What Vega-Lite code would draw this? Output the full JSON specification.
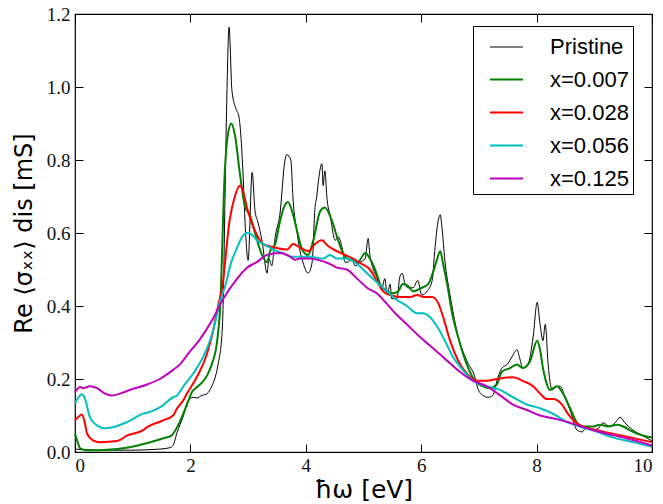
{
 "$schema": "https://vega.github.io/schema/vega-lite/v6.json",
 "width": 577, "height": 438,
 "autosize": {"type": "none"},
 "padding": {"left": 75, "top": 14, "right": 11, "bottom": 52},
 "background": "#ffffff",
 "config": {
  "view": {"stroke": "#000", "strokeWidth": 1.2},
  "axis": {"grid": false, "domain": false, "tickColor": "#000", "tickSize": -8, "tickWidth": 1,
   "labelFont": "Liberation Serif", "labelFontSize": 19, "labelColor": "#111",
   "titleFont": "DejaVu Sans", "titleFontSize": 24, "titleFontWeight": "normal", "titleColor": "#000"}
 },
 "data": {"values": [
  {"s":"Pristine","x":0,"y":0.008},{"s":"Pristine","x":0.43,"y":0.005},{"s":"Pristine","x":0.95,"y":0.005},{"s":"Pristine","x":1.47,"y":0.008},{"s":"Pristine","x":1.65,"y":0.012},{"s":"Pristine","x":1.70,"y":0.018},{"s":"Pristine","x":1.77,"y":0.054},{"s":"Pristine","x":1.87,"y":0.095},{"s":"Pristine","x":1.96,"y":0.14},{"s":"Pristine","x":2.05,"y":0.15},{"s":"Pristine","x":2.11,"y":0.148},{"s":"Pristine","x":2.20,"y":0.155},{"s":"Pristine","x":2.29,"y":0.16},{"s":"Pristine","x":2.37,"y":0.18},{"s":"Pristine","x":2.43,"y":0.205},{"s":"Pristine","x":2.48,"y":0.24},{"s":"Pristine","x":2.55,"y":0.33},{"s":"Pristine","x":2.57,"y":0.42},{"s":"Pristine","x":2.60,"y":0.70},{"s":"Pristine","x":2.63,"y":0.96},{"s":"Pristine","x":2.67,"y":1.164},{"s":"Pristine","x":2.72,"y":0.99},{"s":"Pristine","x":2.79,"y":0.94},{"s":"Pristine","x":2.84,"y":0.92},{"s":"Pristine","x":2.91,"y":0.77},{"s":"Pristine","x":2.95,"y":0.62},{"s":"Pristine","x":3.00,"y":0.525},{"s":"Pristine","x":3.07,"y":0.766},{"s":"Pristine","x":3.12,"y":0.66},{"s":"Pristine","x":3.17,"y":0.63},{"s":"Pristine","x":3.24,"y":0.58},{"s":"Pristine","x":3.33,"y":0.49},{"s":"Pristine","x":3.36,"y":0.53},{"s":"Pristine","x":3.41,"y":0.51},{"s":"Pristine","x":3.47,"y":0.59},{"s":"Pristine","x":3.55,"y":0.65},{"s":"Pristine","x":3.64,"y":0.80},{"s":"Pristine","x":3.67,"y":0.815},{"s":"Pristine","x":3.74,"y":0.80},{"s":"Pristine","x":3.78,"y":0.69},{"s":"Pristine","x":3.85,"y":0.60},{"s":"Pristine","x":3.90,"y":0.55},{"s":"Pristine","x":3.95,"y":0.52},{"s":"Pristine","x":4.04,"y":0.49},{"s":"Pristine","x":4.11,"y":0.52},{"s":"Pristine","x":4.16,"y":0.67},{"s":"Pristine","x":4.19,"y":0.70},{"s":"Pristine","x":4.21,"y":0.73},{"s":"Pristine","x":4.28,"y":0.79},{"s":"Pristine","x":4.30,"y":0.73},{"s":"Pristine","x":4.33,"y":0.77},{"s":"Pristine","x":4.37,"y":0.69},{"s":"Pristine","x":4.42,"y":0.65},{"s":"Pristine","x":4.51,"y":0.58},{"s":"Pristine","x":4.56,"y":0.59},{"s":"Pristine","x":4.63,"y":0.56},{"s":"Pristine","x":4.68,"y":0.52},{"s":"Pristine","x":4.73,"y":0.52},{"s":"Pristine","x":4.80,"y":0.53},{"s":"Pristine","x":4.85,"y":0.51},{"s":"Pristine","x":4.94,"y":0.52},{"s":"Pristine","x":5.03,"y":0.53},{"s":"Pristine","x":5.08,"y":0.585},{"s":"Pristine","x":5.11,"y":0.54},{"s":"Pristine","x":5.16,"y":0.505},{"s":"Pristine","x":5.23,"y":0.48},{"s":"Pristine","x":5.32,"y":0.45},{"s":"Pristine","x":5.37,"y":0.475},{"s":"Pristine","x":5.41,"y":0.43},{"s":"Pristine","x":5.46,"y":0.46},{"s":"Pristine","x":5.49,"y":0.42},{"s":"Pristine","x":5.58,"y":0.42},{"s":"Pristine","x":5.63,"y":0.48},{"s":"Pristine","x":5.67,"y":0.49},{"s":"Pristine","x":5.72,"y":0.46},{"s":"Pristine","x":5.77,"y":0.45},{"s":"Pristine","x":5.86,"y":0.45},{"s":"Pristine","x":5.94,"y":0.47},{"s":"Pristine","x":6.01,"y":0.43},{"s":"Pristine","x":6.10,"y":0.44},{"s":"Pristine","x":6.19,"y":0.47},{"s":"Pristine","x":6.24,"y":0.56},{"s":"Pristine","x":6.29,"y":0.63},{"s":"Pristine","x":6.33,"y":0.65},{"s":"Pristine","x":6.36,"y":0.615},{"s":"Pristine","x":6.41,"y":0.525},{"s":"Pristine","x":6.50,"y":0.43},{"s":"Pristine","x":6.62,"y":0.33},{"s":"Pristine","x":6.79,"y":0.25},{"s":"Pristine","x":6.93,"y":0.205},{"s":"Pristine","x":6.98,"y":0.175},{"s":"Pristine","x":7.07,"y":0.155},{"s":"Pristine","x":7.16,"y":0.15},{"s":"Pristine","x":7.24,"y":0.155},{"s":"Pristine","x":7.33,"y":0.205},{"s":"Pristine","x":7.40,"y":0.23},{"s":"Pristine","x":7.49,"y":0.24},{"s":"Pristine","x":7.57,"y":0.26},{"s":"Pristine","x":7.66,"y":0.28},{"s":"Pristine","x":7.71,"y":0.255},{"s":"Pristine","x":7.76,"y":0.23},{"s":"Pristine","x":7.85,"y":0.24},{"s":"Pristine","x":7.94,"y":0.315},{"s":"Pristine","x":8.01,"y":0.41},{"s":"Pristine","x":8.06,"y":0.35},{"s":"Pristine","x":8.11,"y":0.305},{"s":"Pristine","x":8.15,"y":0.35},{"s":"Pristine","x":8.20,"y":0.24},{"s":"Pristine","x":8.27,"y":0.17},{"s":"Pristine","x":8.35,"y":0.18},{"s":"Pristine","x":8.41,"y":0.18},{"s":"Pristine","x":8.49,"y":0.15},{"s":"Pristine","x":8.58,"y":0.115},{"s":"Pristine","x":8.70,"y":0.06},{"s":"Pristine","x":8.79,"y":0.055},{"s":"Pristine","x":8.87,"y":0.07},{"s":"Pristine","x":8.98,"y":0.06},{"s":"Pristine","x":9.10,"y":0.07},{"s":"Pristine","x":9.15,"y":0.08},{"s":"Pristine","x":9.27,"y":0.07},{"s":"Pristine","x":9.36,"y":0.08},{"s":"Pristine","x":9.45,"y":0.095},{"s":"Pristine","x":9.53,"y":0.08},{"s":"Pristine","x":9.67,"y":0.06},{"s":"Pristine","x":9.84,"y":0.045},{"s":"Pristine","x":10,"y":0.03},

  {"s":"x=0.007","x":0,"y":0.05},{"s":"x=0.007","x":0.05,"y":0.025},{"s":"x=0.007","x":0.09,"y":0.01},{"s":"x=0.007","x":0.2,"y":0.005},{"s":"x=0.007","x":0.43,"y":0.005},{"s":"x=0.007","x":0.95,"y":0.013},{"s":"x=0.007","x":1.24,"y":0.024},{"s":"x=0.007","x":1.52,"y":0.037},{"s":"x=0.007","x":1.67,"y":0.045},{"s":"x=0.007","x":1.77,"y":0.068},{"s":"x=0.007","x":1.85,"y":0.095},{"s":"x=0.007","x":1.94,"y":0.13},{"s":"x=0.007","x":2.03,"y":0.165},{"s":"x=0.007","x":2.13,"y":0.18},{"s":"x=0.007","x":2.20,"y":0.19},{"s":"x=0.007","x":2.29,"y":0.21},{"s":"x=0.007","x":2.37,"y":0.24},{"s":"x=0.007","x":2.46,"y":0.30},{"s":"x=0.007","x":2.51,"y":0.38},{"s":"x=0.007","x":2.60,"y":0.78},{"s":"x=0.007","x":2.65,"y":0.87},{"s":"x=0.007","x":2.71,"y":0.90},{"s":"x=0.007","x":2.77,"y":0.87},{"s":"x=0.007","x":2.86,"y":0.76},{"s":"x=0.007","x":2.95,"y":0.67},{"s":"x=0.007","x":3.03,"y":0.65},{"s":"x=0.007","x":3.12,"y":0.60},{"s":"x=0.007","x":3.24,"y":0.54},{"s":"x=0.007","x":3.33,"y":0.52},{"s":"x=0.007","x":3.38,"y":0.55},{"s":"x=0.007","x":3.47,"y":0.57},{"s":"x=0.007","x":3.55,"y":0.63},{"s":"x=0.007","x":3.62,"y":0.67},{"s":"x=0.007","x":3.69,"y":0.685},{"s":"x=0.007","x":3.78,"y":0.65},{"s":"x=0.007","x":3.85,"y":0.605},{"s":"x=0.007","x":3.95,"y":0.55},{"s":"x=0.007","x":4.04,"y":0.54},{"s":"x=0.007","x":4.13,"y":0.58},{"s":"x=0.007","x":4.25,"y":0.66},{"s":"x=0.007","x":4.33,"y":0.67},{"s":"x=0.007","x":4.45,"y":0.635},{"s":"x=0.007","x":4.56,"y":0.58},{"s":"x=0.007","x":4.68,"y":0.535},{"s":"x=0.007","x":4.80,"y":0.525},{"s":"x=0.007","x":4.90,"y":0.52},{"s":"x=0.007","x":5.03,"y":0.545},{"s":"x=0.007","x":5.11,"y":0.53},{"s":"x=0.007","x":5.20,"y":0.50},{"s":"x=0.007","x":5.29,"y":0.46},{"s":"x=0.007","x":5.41,"y":0.44},{"s":"x=0.007","x":5.51,"y":0.435},{"s":"x=0.007","x":5.60,"y":0.44},{"s":"x=0.007","x":5.68,"y":0.46},{"s":"x=0.007","x":5.77,"y":0.455},{"s":"x=0.007","x":5.86,"y":0.44},{"s":"x=0.007","x":6.01,"y":0.45},{"s":"x=0.007","x":6.12,"y":0.46},{"s":"x=0.007","x":6.20,"y":0.49},{"s":"x=0.007","x":6.27,"y":0.525},{"s":"x=0.007","x":6.33,"y":0.55},{"s":"x=0.007","x":6.38,"y":0.515},{"s":"x=0.007","x":6.45,"y":0.46},{"s":"x=0.007","x":6.53,"y":0.385},{"s":"x=0.007","x":6.64,"y":0.315},{"s":"x=0.007","x":6.79,"y":0.24},{"s":"x=0.007","x":6.93,"y":0.195},{"s":"x=0.007","x":7.07,"y":0.18},{"s":"x=0.007","x":7.19,"y":0.175},{"s":"x=0.007","x":7.31,"y":0.185},{"s":"x=0.007","x":7.40,"y":0.22},{"s":"x=0.007","x":7.54,"y":0.23},{"s":"x=0.007","x":7.66,"y":0.24},{"s":"x=0.007","x":7.76,"y":0.23},{"s":"x=0.007","x":7.89,"y":0.25},{"s":"x=0.007","x":8.01,"y":0.305},{"s":"x=0.007","x":8.06,"y":0.28},{"s":"x=0.007","x":8.11,"y":0.23},{"s":"x=0.007","x":8.18,"y":0.185},{"s":"x=0.007","x":8.23,"y":0.17},{"s":"x=0.007","x":8.35,"y":0.18},{"s":"x=0.007","x":8.46,"y":0.16},{"s":"x=0.007","x":8.58,"y":0.12},{"s":"x=0.007","x":8.70,"y":0.08},{"s":"x=0.007","x":8.80,"y":0.07},{"s":"x=0.007","x":8.98,"y":0.07},{"s":"x=0.007","x":9.10,"y":0.075},{"s":"x=0.007","x":9.24,"y":0.07},{"s":"x=0.007","x":9.40,"y":0.075},{"s":"x=0.007","x":9.50,"y":0.07},{"s":"x=0.007","x":9.67,"y":0.055},{"s":"x=0.007","x":9.84,"y":0.045},{"s":"x=0.007","x":10,"y":0.04},

  {"s":"x=0.028","x":0,"y":0.087},{"s":"x=0.028","x":0.07,"y":0.098},{"s":"x=0.028","x":0.12,"y":0.103},{"s":"x=0.028","x":0.17,"y":0.08},{"s":"x=0.028","x":0.21,"y":0.05},{"s":"x=0.028","x":0.31,"y":0.032},{"s":"x=0.028","x":0.43,"y":0.027},{"s":"x=0.028","x":0.73,"y":0.03},{"s":"x=0.028","x":0.90,"y":0.045},{"s":"x=0.028","x":1.18,"y":0.06},{"s":"x=0.028","x":1.25,"y":0.068},{"s":"x=0.028","x":1.50,"y":0.085},{"s":"x=0.028","x":1.70,"y":0.10},{"s":"x=0.028","x":1.77,"y":0.12},{"s":"x=0.028","x":1.87,"y":0.14},{"s":"x=0.028","x":1.94,"y":0.16},{"s":"x=0.028","x":2.11,"y":0.205},{"s":"x=0.028","x":2.29,"y":0.27},{"s":"x=0.028","x":2.39,"y":0.33},{"s":"x=0.028","x":2.48,"y":0.40},{"s":"x=0.028","x":2.55,"y":0.45},{"s":"x=0.028","x":2.68,"y":0.635},{"s":"x=0.028","x":2.77,"y":0.70},{"s":"x=0.028","x":2.86,"y":0.73},{"s":"x=0.028","x":2.91,"y":0.715},{"s":"x=0.028","x":2.98,"y":0.67},{"s":"x=0.028","x":3.07,"y":0.625},{"s":"x=0.028","x":3.17,"y":0.59},{"s":"x=0.028","x":3.26,"y":0.57},{"s":"x=0.028","x":3.34,"y":0.565},{"s":"x=0.028","x":3.47,"y":0.56},{"s":"x=0.028","x":3.68,"y":0.555},{"s":"x=0.028","x":3.78,"y":0.57},{"s":"x=0.028","x":3.90,"y":0.56},{"s":"x=0.028","x":4.04,"y":0.55},{"s":"x=0.028","x":4.16,"y":0.57},{"s":"x=0.028","x":4.28,"y":0.58},{"s":"x=0.028","x":4.38,"y":0.565},{"s":"x=0.028","x":4.54,"y":0.55},{"s":"x=0.028","x":4.68,"y":0.54},{"s":"x=0.028","x":4.82,"y":0.53},{"s":"x=0.028","x":4.97,"y":0.515},{"s":"x=0.028","x":5.11,"y":0.50},{"s":"x=0.028","x":5.23,"y":0.47},{"s":"x=0.028","x":5.34,"y":0.44},{"s":"x=0.028","x":5.46,"y":0.43},{"s":"x=0.028","x":5.63,"y":0.425},{"s":"x=0.028","x":5.81,"y":0.425},{"s":"x=0.028","x":5.93,"y":0.43},{"s":"x=0.028","x":6.03,"y":0.425},{"s":"x=0.028","x":6.19,"y":0.425},{"s":"x=0.028","x":6.29,"y":0.41},{"s":"x=0.028","x":6.38,"y":0.37},{"s":"x=0.028","x":6.50,"y":0.305},{"s":"x=0.028","x":6.64,"y":0.25},{"s":"x=0.028","x":6.79,"y":0.215},{"s":"x=0.028","x":6.97,"y":0.195},{"s":"x=0.028","x":7.14,"y":0.195},{"s":"x=0.028","x":7.31,"y":0.20},{"s":"x=0.028","x":7.59,"y":0.205},{"s":"x=0.028","x":7.76,"y":0.195},{"s":"x=0.028","x":7.94,"y":0.18},{"s":"x=0.028","x":8.06,"y":0.16},{"s":"x=0.028","x":8.18,"y":0.145},{"s":"x=0.028","x":8.28,"y":0.145},{"s":"x=0.028","x":8.44,"y":0.13},{"s":"x=0.028","x":8.54,"y":0.105},{"s":"x=0.028","x":8.67,"y":0.082},{"s":"x=0.028","x":8.80,"y":0.07},{"s":"x=0.028","x":9.05,"y":0.06},{"s":"x=0.028","x":9.32,"y":0.05},{"s":"x=0.028","x":9.62,"y":0.04},{"s":"x=0.028","x":10,"y":0.027},

  {"s":"x=0.056","x":0,"y":0.133},{"s":"x=0.056","x":0.06,"y":0.15},{"s":"x=0.056","x":0.12,"y":0.158},{"s":"x=0.056","x":0.17,"y":0.147},{"s":"x=0.056","x":0.26,"y":0.095},{"s":"x=0.056","x":0.38,"y":0.073},{"s":"x=0.056","x":0.52,"y":0.065},{"s":"x=0.056","x":0.66,"y":0.068},{"s":"x=0.056","x":0.90,"y":0.082},{"s":"x=0.056","x":1.18,"y":0.105},{"s":"x=0.056","x":1.30,"y":0.11},{"s":"x=0.056","x":1.50,"y":0.125},{"s":"x=0.056","x":1.70,"y":0.15},{"s":"x=0.056","x":1.77,"y":0.155},{"s":"x=0.056","x":1.87,"y":0.178},{"s":"x=0.056","x":1.96,"y":0.197},{"s":"x=0.056","x":2.05,"y":0.215},{"s":"x=0.056","x":2.11,"y":0.23},{"s":"x=0.056","x":2.22,"y":0.26},{"s":"x=0.056","x":2.39,"y":0.33},{"s":"x=0.056","x":2.51,"y":0.41},{"s":"x=0.056","x":2.63,"y":0.47},{"s":"x=0.056","x":2.68,"y":0.505},{"s":"x=0.056","x":2.81,"y":0.56},{"s":"x=0.056","x":2.90,"y":0.59},{"s":"x=0.056","x":2.98,"y":0.60},{"s":"x=0.056","x":3.07,"y":0.595},{"s":"x=0.056","x":3.15,"y":0.58},{"s":"x=0.056","x":3.26,"y":0.57},{"s":"x=0.056","x":3.38,"y":0.56},{"s":"x=0.056","x":3.50,"y":0.55},{"s":"x=0.056","x":3.61,"y":0.545},{"s":"x=0.056","x":3.73,"y":0.535},{"s":"x=0.056","x":3.85,"y":0.535},{"s":"x=0.056","x":4.07,"y":0.535},{"s":"x=0.056","x":4.30,"y":0.53},{"s":"x=0.056","x":4.42,"y":0.54},{"s":"x=0.056","x":4.54,"y":0.53},{"s":"x=0.056","x":4.71,"y":0.53},{"s":"x=0.056","x":4.89,"y":0.515},{"s":"x=0.056","x":5.06,"y":0.49},{"s":"x=0.056","x":5.23,"y":0.465},{"s":"x=0.056","x":5.41,"y":0.44},{"s":"x=0.056","x":5.55,"y":0.42},{"s":"x=0.056","x":5.75,"y":0.40},{"s":"x=0.056","x":5.93,"y":0.38},{"s":"x=0.056","x":6.03,"y":0.38},{"s":"x=0.056","x":6.15,"y":0.37},{"s":"x=0.056","x":6.27,"y":0.345},{"s":"x=0.056","x":6.41,"y":0.305},{"s":"x=0.056","x":6.55,"y":0.26},{"s":"x=0.056","x":6.72,"y":0.225},{"s":"x=0.056","x":6.90,"y":0.195},{"s":"x=0.056","x":7.14,"y":0.18},{"s":"x=0.056","x":7.37,"y":0.17},{"s":"x=0.056","x":7.59,"y":0.15},{"s":"x=0.056","x":7.83,"y":0.13},{"s":"x=0.056","x":8.06,"y":0.12},{"s":"x=0.056","x":8.28,"y":0.105},{"s":"x=0.056","x":8.53,"y":0.082},{"s":"x=0.056","x":8.75,"y":0.07},{"s":"x=0.056","x":9.05,"y":0.055},{"s":"x=0.056","x":9.32,"y":0.04},{"s":"x=0.056","x":9.67,"y":0.027},{"s":"x=0.056","x":10,"y":0.014},

  {"s":"x=0.125","x":0,"y":0.164},{"s":"x=0.125","x":0.09,"y":0.178},{"s":"x=0.125","x":0.14,"y":0.175},{"s":"x=0.125","x":0.26,"y":0.18},{"s":"x=0.125","x":0.38,"y":0.175},{"s":"x=0.125","x":0.52,"y":0.16},{"s":"x=0.125","x":0.64,"y":0.155},{"s":"x=0.125","x":0.78,"y":0.16},{"s":"x=0.125","x":0.95,"y":0.17},{"s":"x=0.125","x":1.25,"y":0.185},{"s":"x=0.125","x":1.47,"y":0.2},{"s":"x=0.125","x":1.70,"y":0.225},{"s":"x=0.125","x":1.82,"y":0.24},{"s":"x=0.125","x":1.94,"y":0.265},{"s":"x=0.125","x":2.17,"y":0.31},{"s":"x=0.125","x":2.39,"y":0.365},{"s":"x=0.125","x":2.57,"y":0.42},{"s":"x=0.125","x":2.81,"y":0.475},{"s":"x=0.125","x":2.98,"y":0.505},{"s":"x=0.125","x":3.15,"y":0.52},{"s":"x=0.125","x":3.33,"y":0.54},{"s":"x=0.125","x":3.55,"y":0.545},{"s":"x=0.125","x":3.73,"y":0.535},{"s":"x=0.125","x":3.81,"y":0.527},{"s":"x=0.125","x":3.90,"y":0.53},{"s":"x=0.125","x":4.04,"y":0.53},{"s":"x=0.125","x":4.19,"y":0.527},{"s":"x=0.125","x":4.42,"y":0.515},{"s":"x=0.125","x":4.54,"y":0.505},{"s":"x=0.125","x":4.71,"y":0.50},{"s":"x=0.125","x":4.89,"y":0.475},{"s":"x=0.125","x":5.06,"y":0.45},{"s":"x=0.125","x":5.23,"y":0.435},{"s":"x=0.125","x":5.41,"y":0.405},{"s":"x=0.125","x":5.55,"y":0.38},{"s":"x=0.125","x":5.75,"y":0.35},{"s":"x=0.125","x":5.98,"y":0.315},{"s":"x=0.125","x":6.20,"y":0.285},{"s":"x=0.125","x":6.45,"y":0.25},{"s":"x=0.125","x":6.67,"y":0.22},{"s":"x=0.125","x":6.90,"y":0.195},{"s":"x=0.125","x":7.14,"y":0.18},{"s":"x=0.125","x":7.37,"y":0.155},{"s":"x=0.125","x":7.59,"y":0.13},{"s":"x=0.125","x":7.83,"y":0.115},{"s":"x=0.125","x":8.06,"y":0.10},{"s":"x=0.125","x":8.35,"y":0.09},{"s":"x=0.125","x":8.58,"y":0.08},{"s":"x=0.125","x":8.87,"y":0.065},{"s":"x=0.125","x":9.22,"y":0.05},{"s":"x=0.125","x":9.57,"y":0.037},{"s":"x=0.125","x":10,"y":0.018}
 ]},
 "layer": [
  {
   "mark": {"type": "line", "interpolate": "monotone"},
   "encoding": {
    "x": {"field": "x", "type": "quantitative", "scale": {"domain": [0, 10], "nice": false},
     "axis": {"values": [0, 2, 4, 6, 8, 10], "format": "d", "title": "ħω [eV]", "labelPadding": 12, "titlePadding": 2, "titleFontSize": 25}},
    "y": {"field": "y", "type": "quantitative", "scale": {"domain": [0, 1.2], "nice": false},
     "axis": {"values": [0, 0.2, 0.4, 0.6, 0.8, 1.0, 1.2], "format": ".1f", "title": "Re ⟨σₓₓ⟩ dis [mS]", "labelPadding": 13, "titlePadding": 10}},
    "color": {"field": "s", "type": "nominal",
     "scale": {"domain": ["Pristine", "x=0.007", "x=0.028", "x=0.056", "x=0.125"], "range": ["#000000", "#008000", "#ff0000", "#00bfbf", "#bf00bf"]},
     "legend": {"orient": "none", "legendX": 398, "legendY": 12, "title": null, "strokeColor": "#000", "fillColor": "#fff",
      "padding": 4, "symbolType": "stroke", "symbolSize": 1089, "symbolStrokeWidth": 2, "labelFont": "Liberation Sans", "labelFontSize": 22,
      "labelColor": "#000", "labelOffset": 26, "rowPadding": 4, "symbolOffset": 12, "labelLimit": 200}},
    "strokeWidth": {"field": "s", "type": "nominal",
     "scale": {"type": "ordinal", "domain": ["Pristine", "x=0.007", "x=0.028", "x=0.056", "x=0.125"], "range": [1, 2, 2, 2, 2]}}
   }
  },
  {
   "mark": {"type": "point", "opacity": 0},
   "encoding": {
    "x": {"field": "x", "type": "quantitative", "axis": {"orient": "top", "values": [0, 2, 4, 6, 8, 10], "labels": false, "title": null}},
    "y": {"field": "y", "type": "quantitative", "axis": {"orient": "right", "values": [0, 0.2, 0.4, 0.6, 0.8, 1.0, 1.2], "labels": false, "title": null}}
   }
  }
 ],
 "resolve": {"axis": {"x": "independent", "y": "independent"}}
}
